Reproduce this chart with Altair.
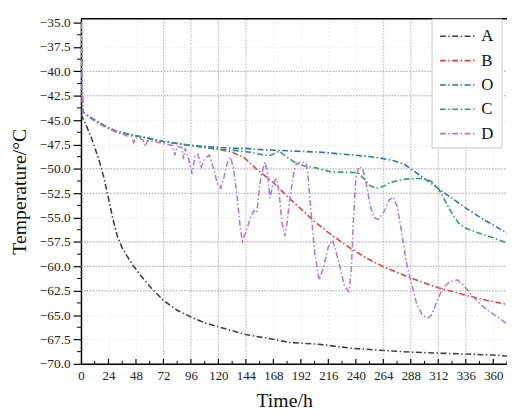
import altair as alt
import pandas as pd

SERIF = "Liberation Serif"

names = ["A", "B", "O", "C", "D"]
colors = ["#404040", "#e5403a", "#2f6dbf", "#3a9c6c", "#b07ddc"]

# ---- series (time in h, temperature in °C) ----
a_t = [0, 4, 8, 12, 16, 20, 24, 28, 32, 36, 40, 46, 54, 62, 72, 84, 96, 108, 120,
       132, 144, 164, 182, 208, 236, 260, 288, 312, 336, 360, 372]
a_v = [-44.4, -45.4, -46.5, -47.8, -49.2, -50.9, -53.0, -55.2, -57.0, -58.1, -58.9,
       -60.0, -61.2, -62.3, -63.5, -64.5, -65.2, -65.8, -66.2, -66.6, -67.0, -67.4,
       -67.8, -68.0, -68.4, -68.6, -68.8, -68.9, -69.0, -69.1, -69.2]

b_t = [0, 1.5, 4, 8, 12, 16, 24, 32, 40, 48, 56, 64, 72, 84, 96, 108, 120, 132, 142,
       153, 168, 179, 192, 205, 220, 236, 250, 265, 288, 312, 337, 355, 372]
b_v = [-35.0, -44.2, -44.4, -44.7, -45.0, -45.3, -45.8, -46.2, -46.4, -46.6, -46.8,
       -47.0, -47.2, -47.4, -47.6, -47.8, -48.0, -48.3, -48.8, -50.0, -51.4, -52.7,
       -54.1, -55.5, -56.9, -58.2, -59.2, -60.1, -61.2, -62.2, -63.0, -63.5, -63.9]

o_t = [0, 1.5, 4, 8, 12, 16, 24, 32, 40, 48, 56, 64, 72, 84, 96, 108, 120, 132, 144,
       153, 170, 190, 210, 230, 248, 262, 274, 282, 288, 294, 300, 307, 314, 325, 337,
       350, 362, 372]
o_v = [-35.0, -44.2, -44.4, -44.7, -45.0, -45.3, -45.8, -46.2, -46.4, -46.6, -46.8,
       -47.0, -47.2, -47.4, -47.6, -47.7, -47.8, -47.9, -47.9, -48.0, -48.1, -48.2,
       -48.3, -48.5, -48.7, -48.9, -49.2, -49.5, -50.0, -50.5, -51.0, -51.6, -52.2,
       -53.1, -54.1, -55.1, -55.9, -56.6]

c_t = [0, 1.5, 4, 8, 12, 16, 24, 32, 40, 48, 56, 64, 72, 84, 96, 108, 120, 132, 142,
       153, 160, 166, 173, 180, 186, 195, 205, 218, 232, 242, 247, 252, 258, 264, 270,
       280, 290, 300, 306, 312, 318, 324, 330, 336, 345, 358, 372]
c_v = [-35.0, -44.2, -44.4, -44.7, -45.0, -45.3, -45.8, -46.2, -46.4, -46.6, -46.8,
       -47.0, -47.2, -47.4, -47.6, -47.8, -48.0, -48.1, -48.2, -48.4, -48.6, -48.6,
       -48.2, -48.8, -49.3, -49.7, -49.9, -50.3, -50.35, -50.4, -51.0, -51.7, -52.0,
       -51.8, -51.4, -51.1, -51.0, -51.0, -51.3, -52.0, -53.3, -54.6, -55.6, -56.1,
       -56.5, -57.0, -57.6]

d_t = [0, 1.5, 4, 8, 12, 16, 24, 32, 40, 44, 46, 48, 54, 56, 58, 64, 72, 76, 80, 82,
       84, 88, 89.5, 91, 94, 97, 99.5, 102, 105, 108, 112, 116, 119, 122, 125, 128,
       130.5, 133, 136, 139, 141, 144, 148, 151, 153.5, 157, 160.7, 163, 165, 168,
       170.8, 173, 175.5, 178, 180, 183, 186, 188, 193, 196.6, 198, 201, 204, 208,
       212, 216, 219.6, 222, 226, 230, 233.9, 236, 238, 240, 242.5, 246, 249, 253,
       256, 259.7, 265, 269, 272.6, 276, 280, 284, 288, 293, 298, 302.8, 306, 311,
       316, 322, 328.6, 334, 340, 348, 356, 364, 372]
d_v = [-35.0, -44.2, -44.4, -44.8, -45.1, -45.4, -45.9, -46.3, -46.6, -46.7, -47.3,
       -46.8, -47.0, -47.7, -47.1, -47.2, -47.4, -47.5, -47.6, -48.6, -47.7, -47.8,
       -49.0, -47.9, -49.0, -50.5, -48.7, -48.5, -49.8, -49.0, -48.6, -50.0, -51.5,
       -52.0, -50.8, -49.3, -48.8, -49.8, -52.5, -56.0, -57.4, -56.5, -55.0, -54.3,
       -54.5, -50.8, -49.3, -50.5, -53.0, -51.4, -51.0, -52.5, -55.5, -56.9, -55.5,
       -52.5, -50.3, -49.5, -49.3, -49.4, -50.5, -54.5, -58.5, -61.4, -60.0, -58.0,
       -57.3, -58.2, -60.0, -62.0, -62.6, -60.5, -55.0, -51.0, -49.8, -50.0, -51.5,
       -54.0, -55.0, -55.2, -54.3, -53.2, -52.9, -53.8, -56.5, -59.5, -61.5, -63.8,
       -65.0, -65.3, -65.0, -63.5, -62.2, -61.6, -61.4, -61.9, -62.8, -63.8, -64.6,
       -65.2, -65.9]

series = {"A": (a_t, a_v), "B": (b_t, b_v), "O": (o_t, o_v), "C": (c_t, c_v), "D": (d_t, d_v)}

# ---- axis values ----
x_ticks = [0, 24, 48, 72, 96, 120, 144, 168, 192, 216, 240, 264, 288, 312, 336, 360]
x_minor = [12, 36, 60, 84, 108, 132, 156, 180, 204, 228, 252, 276, 300, 324, 348, 372]
y_ticks = [-35.0, -37.5, -40.0, -42.5, -45.0, -47.5, -50.0, -52.5, -55.0, -57.5, -60.0,
           -62.5, -65.0, -67.5, -70.0]
y_minor = [-36.25, -38.75, -41.25, -43.75, -46.25, -48.75, -51.25, -53.75, -56.25,
           -58.75, -61.25, -63.75, -66.25, -68.75]
h_grid = [-40.0, -42.5, -50.0, -52.5, -57.5, -60.0, -62.5]
v_grid = [72, 96, 120, 144, 264, 288, 312, 336]

W, H = 432, 350
X0, X1 = 0.0, 372.0
Y0, Y1 = -70.0, -34.6
PX_X = (X1 - X0) / W   # hours per pixel
PX_Y = (Y1 - Y0) / H   # degrees per pixel

x_scale = alt.Scale(domain=[X0, X1], nice=False, zero=False)
y_scale = alt.Scale(domain=[Y0, Y1], nice=False, zero=False)
color_scale = alt.Scale(domain=names, range=colors)
DASH = [6, 2.5, 1.5, 2.5]

common_axis = dict(
    labelFont=SERIF, labelColor="#222222", domainColor="black", domainWidth=1.5,
    tickColor="black", tickWidth=1.2, grid=True, gridColor="#ececec", gridDash=[2, 2],
    titleFont=SERIF, titleFontSize=20, titleFontWeight="normal", titleColor="#111111",
    labelFlush=False, titleBaseline="alphabetic",
)
# identical axis definitions on every layer so that Vega-Lite merges them
x_axis = alt.Axis(values=x_ticks, format="d", title="Time/h", tickSize=0,
                  labelFontSize=13, labelPadding=6, titleX=206, titleY=43,
                  **common_axis)
y_axis = alt.Axis(values=y_ticks, format=".1f", title="Temperature/°C", tickSize=8,
                  labelFontSize=13.5, labelPadding=3, titleX=-56, titleY=175,
                  titleAlign="center", **common_axis)

X = lambda f: alt.X(f, scale=x_scale, axis=x_axis)
Y = lambda f: alt.Y(f, scale=y_scale, axis=y_axis)

hg = alt.Chart(pd.DataFrame({"v": h_grid, "a": X0, "b": X1})).mark_rule(
    color="#a0a0a0", strokeDash=[1.5, 1.5], strokeWidth=0.9
).encode(y=Y("v:Q"), x=X("a:Q"), x2="b:Q")

vg = alt.Chart(pd.DataFrame({"v": v_grid, "a": Y0, "b": Y1})).mark_rule(
    color="#b5b5b5", strokeDash=[1.5, 1.5], strokeWidth=0.9
).encode(x=X("v:Q"), y=Y("a:Q"), y2="b:Q")

line_layers = []
for n in names:
    ts, vs = series[n]
    df = pd.DataFrame({"t": ts, "T": vs, "series": [n] * len(ts)})
    line_layers.append(
        alt.Chart(df).mark_line(strokeWidth=1.6, strokeDash=DASH, clip=True).encode(
            x=X("t:Q"), y=Y("T:Q"),
            color=alt.Color("series:N", scale=color_scale, legend=None),
            order=alt.Order("t:Q"),
        )
    )

# ticks: y minor outward, x inward (drawn through the same scales)
ymin = alt.Chart(pd.DataFrame({"v": y_minor, "a": X0 - 4 * PX_X, "b": X0})).mark_rule(
    color="black", strokeWidth=1).encode(y=Y("v:Q"), x=X("a:Q"), x2="b:Q")
xmaj = alt.Chart(pd.DataFrame({"v": x_ticks[1:], "a": Y0, "b": Y0 + 5 * PX_Y})).mark_rule(
    color="black", strokeWidth=1.2).encode(x=X("v:Q"), y=Y("a:Q"), y2="b:Q")
xmin = alt.Chart(pd.DataFrame({"v": x_minor, "a": Y0, "b": Y0 + 3 * PX_Y})).mark_rule(
    color="black", strokeWidth=1).encode(x=X("v:Q"), y=Y("a:Q"), y2="b:Q")
top = alt.Chart(pd.DataFrame({"v": [Y1], "a": [X0], "b": [X1]})).mark_rule(
    color="black", strokeWidth=1.5).encode(y=Y("v:Q"), x=X("a:Q"), x2="b:Q")

# legend (placed in plot units)
leg_df = pd.DataFrame({"series": names, "i": list(range(len(names)))})
leg_df["ly"] = Y1 - (17.8 + leg_df["i"] * 24.7) * PX_Y
leg_df["s0"] = X0 + 364 * PX_X
leg_df["s1"] = X0 + 401 * PX_X
leg_df["lx"] = X0 + 406 * PX_X
box_df = pd.DataFrame({"a": [X0 + 356 * PX_X], "b": [X0 + 427 * PX_X],
                       "c": [Y1 - 0.5 * PX_Y], "d": [Y1 - 131 * PX_Y]})
leg_box = alt.Chart(box_df).mark_rect(fill="white", stroke="#c8c8c8", strokeWidth=1).encode(
    x=X("a:Q"), x2="b:Q", y=Y("c:Q"), y2="d:Q")
leg_lines = alt.Chart(leg_df).mark_rule(strokeWidth=1.6, strokeDash=DASH).encode(
    y=Y("ly:Q"), x=X("s0:Q"), x2="s1:Q",
    color=alt.Color("series:N", scale=color_scale, legend=None),
)
leg_text = alt.Chart(leg_df).mark_text(
    align="left", baseline="middle", font=SERIF, fontSize=17, color="#111111"
).encode(y=Y("ly:Q"), x=X("lx:Q"), text="series:N")

layers = line_layers[:1] + [hg, vg] + line_layers[1:] + [ymin, xmaj, xmin, top,
                                                         leg_box, leg_lines, leg_text]

chart = alt.layer(*layers).properties(
    width=W, height=H, autosize=alt.AutoSizeParams(type="none"),
    padding={"left": 74, "top": 8, "right": 0, "bottom": 45},
    background="white",
).configure_view(strokeWidth=0).configure_axis(
    labelFont=SERIF, labelFontSize=13, labelColor="#222222", titleFont=SERIF,
    titleFontSize=20, titleFontWeight="normal",
)

chart.save("out.html", embed_options={"renderer": "svg", "actions": False})
